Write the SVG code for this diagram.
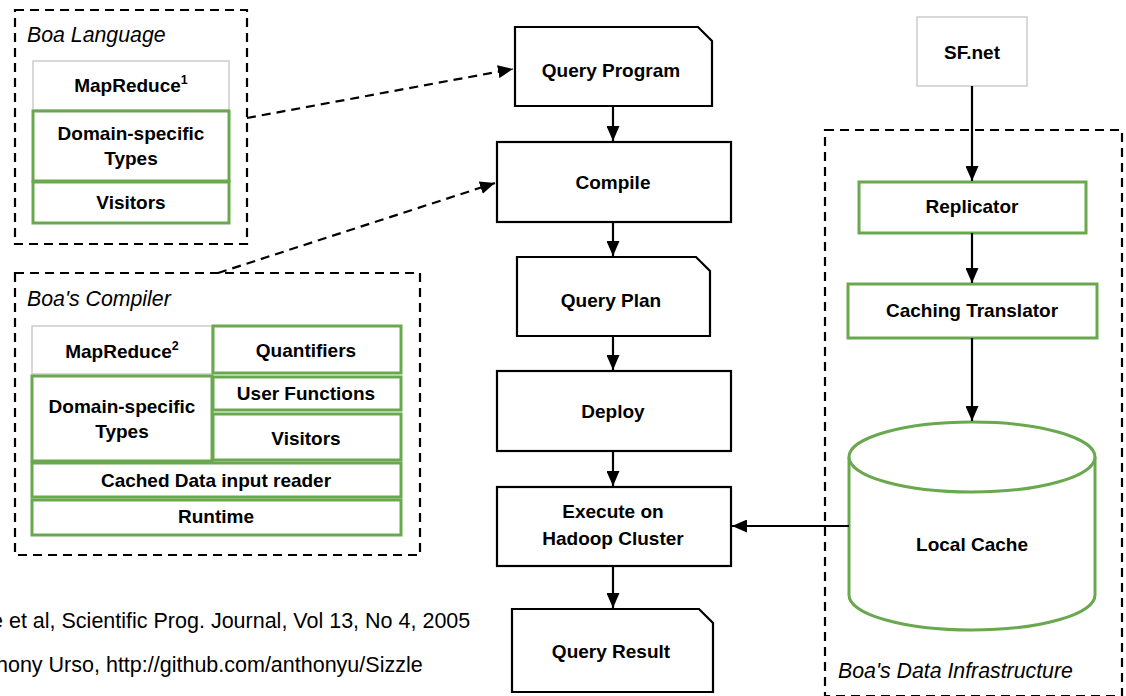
<svg xmlns="http://www.w3.org/2000/svg" width="1126" height="696" viewBox="0 0 1126 696">
<style>
.bg{fill:#ffffff}
.blk{fill:#fff;stroke:#000;stroke-width:2.2}
.grn{fill:#fff;stroke:#6aa84f;stroke-width:3}
.gry{fill:#fff;stroke:#cccccc;stroke-width:1.5}
.dash{fill:none;stroke:#000;stroke-width:2.2;stroke-dasharray:9,6}
.t{font-family:"Liberation Sans",Arial,sans-serif;font-weight:bold;font-size:19px;fill:#000;text-anchor:middle}
.it{font-family:"Liberation Sans",Arial,sans-serif;font-style:italic;font-size:21.3px;fill:#000}
.fn{font-family:"Liberation Sans",Arial,sans-serif;font-size:21.5px;fill:#000}
.con{fill:none;stroke:#000;stroke-width:2.2}
</style>
<defs>
<marker id="ah" markerUnits="userSpaceOnUse" markerWidth="15" markerHeight="13" refX="15" refY="6.5" orient="auto">
<path d="M0,0 L15,6.5 L0,13 Z" fill="#000"/>
</marker>
</defs>
<rect class="bg" x="0" y="0" width="1126" height="696"/>

<g id="boa-language">
<rect class="dash" x="15" y="10" width="232" height="234"/>
<text class="it" x="27" y="42">Boa Language</text>
<rect class="gry" x="33" y="61" width="196" height="49"/>
<text class="t" x="131" y="92">MapReduce<tspan font-size="12.5" dy="-8">1</tspan></text>
<rect class="grn" x="33" y="111" width="196" height="70"/>
<text class="t" x="131" y="140">Domain-specific</text>
<text class="t" x="131" y="165">Types</text>
<rect class="grn" x="33" y="182" width="196" height="41"/>
<text class="t" x="131" y="209">Visitors</text>
</g>

<g id="boa-compiler">
<rect class="dash" x="15" y="273" width="405" height="282"/>
<text class="it" x="27" y="306">Boa's Compiler</text>
<rect class="gry" x="32" y="326" width="180" height="48"/>
<text class="t" x="122" y="358">MapReduce<tspan font-size="12.5" dy="-8">2</tspan></text>
<rect class="grn" x="213" y="326" width="188" height="47"/>
<text class="t" x="306" y="357">Quantifiers</text>
<rect class="grn" x="32" y="376" width="180" height="85"/>
<text class="t" x="122" y="413">Domain-specific</text>
<text class="t" x="122" y="438">Types</text>
<rect class="grn" x="213" y="377" width="188" height="33"/>
<text class="t" x="306" y="400">User Functions</text>
<rect class="grn" x="213" y="414" width="188" height="46"/>
<text class="t" x="306" y="445">Visitors</text>
<rect class="grn" x="32" y="463" width="369" height="34"/>
<text class="t" x="216" y="487">Cached Data input reader</text>
<rect class="grn" x="32" y="500" width="369" height="35"/>
<text class="t" x="216" y="523">Runtime</text>
</g>

<g id="query-program">
<path class="blk" d="M515,27 H698 L712,41 V106 H515 Z"/>
<text class="t" x="611" y="77">Query Program</text>
</g>
<g id="compile">
<rect class="blk" x="497" y="142" width="234" height="80"/>
<text class="t" x="613" y="189">Compile</text>
</g>
<g id="query-plan">
<path class="blk" d="M517,257 H696 L710,271 V336 H517 Z"/>
<text class="t" x="611" y="307">Query Plan</text>
</g>
<g id="deploy">
<rect class="blk" x="497" y="371" width="234" height="80"/>
<text class="t" x="613" y="418">Deploy</text>
</g>
<g id="execute">
<rect class="blk" x="497" y="487" width="234" height="79"/>
<text class="t" x="613" y="518">Execute on</text>
<text class="t" x="613" y="545">Hadoop Cluster</text>
</g>
<g id="query-result">
<path class="blk" d="M512,609 H699 L713,623 V692 H512 Z"/>
<text class="t" x="611" y="658">Query Result</text>
</g>

<g id="sfnet">
<rect class="gry" x="917" y="17" width="110" height="69"/>
<text class="t" x="972" y="59">SF.net</text>
</g>
<g id="data-infrastructure">
<rect class="dash" x="825" y="130" width="297" height="566"/>
<text class="it" x="838" y="678">Boa's Data Infrastructure</text>
</g>
<g id="replicator">
<rect class="grn" x="859" y="182" width="227" height="51"/>
<text class="t" x="972" y="213">Replicator</text>
</g>
<g id="caching-translator">
<rect class="grn" x="848" y="284" width="249" height="54"/>
<text class="t" x="972" y="317">Caching Translator</text>
</g>
<g id="local-cache">
<path class="grn" d="M849,457 V595 A123,35 0 0 0 1095,595 V457 A123,35 0 0 0 849,457 Z"/>
<path class="grn" fill="none" d="M849,457 A123,35 0 0 0 1095,457"/>
<text class="t" x="972" y="551">Local Cache</text>
</g>

<g id="connectors">
<path class="dash" d="M247,118 L513,69" marker-end="url(#ah)"/>
<path class="dash" d="M218,273 L495,183" marker-end="url(#ah)"/>
<path class="con" d="M613,106 V141" marker-end="url(#ah)"/>
<path class="con" d="M613,222 V256" marker-end="url(#ah)"/>
<path class="con" d="M613,336 V370" marker-end="url(#ah)"/>
<path class="con" d="M613,451 V486" marker-end="url(#ah)"/>
<path class="con" d="M613,566 V608" marker-end="url(#ah)"/>
<path class="con" d="M972,86 V181" marker-end="url(#ah)"/>
<path class="con" d="M972,233 V283" marker-end="url(#ah)"/>
<path class="con" d="M972,338 V421" marker-end="url(#ah)"/>
<path class="con" d="M849,526 H732" marker-end="url(#ah)"/>
</g>

<g id="footnotes">
<text class="fn" x="-9" y="628">e et al, Scientific Prog. Journal, Vol 13, No 4, 2005</text>
<text class="fn" x="-4" y="672">hony Urso, http://github.com/anthonyu/Sizzle</text>
</g>
</svg>
